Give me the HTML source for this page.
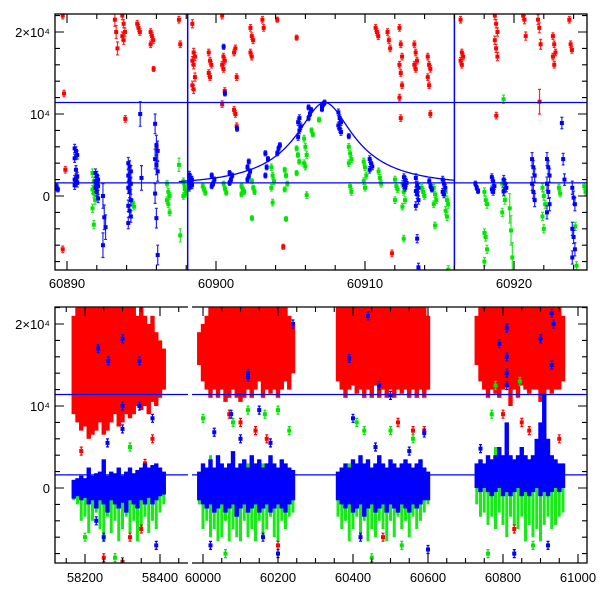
<!DOCTYPE html>
<html><head><meta charset="utf-8"><style>
html,body{margin:0;padding:0;background:#fff;}
svg{display:block;font-family:"Liberation Sans",sans-serif;}
</style></head><body>
<svg id="chart" width="600" height="600" viewBox="0 0 600 600">
<defs>
<clipPath id="clipTop"><rect x="55" y="14" width="532" height="256"/></clipPath>
<clipPath id="clipS1"><rect x="55" y="307" width="133" height="256"/></clipPath>
<clipPath id="clipS2"><rect x="192" y="307" width="395" height="256"/></clipPath>
</defs>
<g id="topPanel"></g>
<g id="botPanel"></g>
</svg>
<script>
// ---- data (flux in units of 1000) ----
const topRed = [
 [60889.8,0.4,[22,12.5,3.2,-6.5]],[60893.3,0.8,[21.5,20.0,18.0]],[60893.8,0.5,[22,21,20,19.5,19]],
 [60894.0,0.4,[9.4]],[60894.8,0.4,[21,20.5,20]],[60895.7,0.4,[20,19.5,19,18.5]],[60895.9,0.3,[15.5]],
 [60896.1,0.4,[6]],[60897.6,0.4,[21.5,18.5]],[60898.5,0.5,[21,17.5,17,16.5,16,14.5,13.5,13]],
 [60899.6,0.4,[17.5,16.5,16,15,14.5]],[60900.5,0.4,[22,17,16.5,16,15.5,12.8,11.2]],
 [60901.3,0.4,[17.5,18,14.5,10.5,10,8.5]],[60902.4,0.4,[20.5,19.5,19,17.5,17]],[60903.2,0.4,[21.5,20.5]],
 [60904.2,0.3,[21.5]],[60904.6,0.3,[-6.2]],[60905.5,0.3,[19.3]],[60910.8,0.4,[20.5,20,19.5]],
 [60911.6,0.4,[20,19,18]],[60911.9,0.4,[-7.0]],[60912.4,0.4,[20.5,18.5,17,16,15,13.5,12,9.5]],
 [60913.4,0.4,[18.5,17.5,16.5,16,15.5]],[60914.3,0.4,[17,16,15.5,14.5,13.5,10]],
 [60916.5,0.4,[21.5,17.5,17,16.5,16]],[60918.8,0.5,[22,21,20,19,18,17]],[60918.9,0.4,[9.8]],
 [60920.7,0.5,[22,21.5,19.5]],[60921.7,0.6,[21.5,20.5,18.5]],[60921.8,1.5,[11.5]],
 [60922.7,0.4,[19.5,18.5,17.5,17,16]],[60923.8,0.4,[21.5,18.5,17.8]]
];
const topGreen = [
 [60891.8,0.5,[2.8,1.8,1.2,0.8,0.3,-0.5,-1.5,-3.5]],[60894.5,0.4,[-0.8,-1.3]],
 [60896.8,0.4,[1.5,0.5,0,-0.5,-1.0,-2.0]],[60897.6,0.8,[3.8,-4.8]],[60897.9,0.4,[1.8,1.2,0.5,0,0.8,0.3]],
 [60899.2,0.3,[1.2,0.8,0.4]],[60900.6,0.3,[1.5,0.9,0.4]],[60901.8,0.3,[1.2,0.8,0.5,0.2]],
 [60902.5,0.3,[1.8,1.0,0.5,-2.7]],[60903.8,0.4,[3.5,2.5,1.8,1.0,-0.8]],[60904.7,0.3,[3.2,2.5,1.5,0.8,-2.8]],
 [60905.5,0.3,[5.8,5.0,4.2,2.8]],[60906.0,0.4,[7.0,6.0,5.0,4.0,3.6,0.1]],[60906.5,0.3,[8.0,7.5]],
 [60907.0,0.3,[9.3]],[60909.0,0.4,[6.0,5.2,4.5,4.0,1.2,0.5]],[60910.0,0.4,[4.2,3.5,2.5,1.8,1.0]],
 [60911.0,0.4,[3.0,2.2,1.5]],[60912.1,0.4,[2.0,1.2,0.8,-0.5]],[60912.6,0.4,[1.5,0.5,-0.5,-1.3,-5.2]],
 [60913.9,0.4,[1.0,0.5,0.0]],[60914.7,0.4,[1.0,0.2,-0.5,-1.0,-3.6]],[60915.5,0.5,[0.5,-0.5,-1.0,-1.8,-2.5,-9.0]],
 [60918.1,0.5,[0.5,-0.5,-1.0,-4.5,-5.0,-6.5,-8.0]],[60919.3,0.5,[1.5,0.5,-0.5,-2.0,11.8]],
 [60919.8,1.8,[-1.5,-4.2,-7.5]],[60922.0,0.5,[1.0,0,-1.0,-2.5,-4.0]],[60923.1,0.4,[1.0,0.3]],
 [60924.2,0.5,[-3.7,-8.5]],[60924.8,0.4,[1.2,0.5]]
];
const topBlue = [
 [60889.3,0.3,[1.0,1.2,0.8]],[60890.6,0.5,[5.8,5.5,5.0,4.6,3.2,2.4,2.0,1.8,1.6,1.3]],
 [60892.0,0.5,[2.8,2.5,2.0,1.8,1.5,1.2,1.0,0.5,-0.3]],[60892.5,1.5,[0.0,-2.6,-3.8,-6.0]],
 [60894.2,0.7,[4,3.6,3,2.5,2,1.5,1,0.5,-0.5,-1.2,-1.8,-2.5,-3.3]],[60895.0,1.5,[10,2.2]],
 [60896.0,1.2,[8.8,6.2,5.5,4.5,3.8,3.0,0.3,-2.7,-7.2]],[60898.3,0.4,[2.6,2.2,2.0,1.8,1.5,1.3,1.0]],
 [60899.8,0.3,[1.2,1.5,2.0,2.5]],[60901.0,0.3,[1.6,2.0,2.5,2.8]],[60900.6,0.3,[18.2,12.5]],
 [60901.5,0.3,[8.2]],[60902.2,0.3,[2.0,2.4,3.0,3.5,4.2]],[60903.4,0.3,[2.5,3.5,4.5,5.2]],
 [60904.2,0.3,[5.2,5.8,6.2]],[60905.6,0.4,[7.2,8.0,8.5,9.0,9.5]],[60906.3,0.3,[9.5,10.0,10.5,10.8]],
 [60907.2,0.3,[10.6,11.2,11.4,10.9]],[60908.3,0.4,[10.2,9.5,9.0,8.6,8.2,7.8]],[60909.0,0.3,[7.3]],
 [60910.4,0.4,[4.5,4.0,3.6,3.2]],[60912.7,0.4,[2.3,2.0,1.6,1.3,1.0]],
 [60913.5,0.5,[2.2,1.3,1.0,0.6,0.2,-0.5,-1.2,-5.2,-8.7]],[60914.4,0.3,[1.8,1.2,0.8]],
 [60915.3,0.4,[2.0,1.5,1.0,0.5,0.2]],[60917.5,0.3,[1.5,1.0,0.6]],[60918.6,0.4,[2.3,1.8,1.2,0.8,0.5]],
 [60919.4,0.5,[2.0,1.5,1.0,0.6]],[60921.3,0.8,[4.5,3.5,2.5,1.5,0.5,-0.5]],
 [60922.3,0.8,[4.5,3.5,2.5,1.5,0.5,-1.0,-2.0]],[60923.3,0.7,[8.9,4.5,2.0]],
 [60924.0,0.8,[1.0,-0.2,-1.0,-4.0,-5.0,-6.5,-7.5]]
];
// microlensing model parameters
const modelT0 = 60907.3, modelTE = 6.2, modelU0 = 0.3, modelBase = 1.3, modelPeak = 11.4;
const modelStart = 60897.5, modelEnd = 60916.0;
// reference lines
const hLines = [11.4, 1.6];
const vLines = [60898.1, 60916.0];
const topXTicks = [60890, 60900, 60910, 60920];
const yTickLabels = ["0", "10⁴", "2×10⁴"];
const yTickValues = [0, 10, 20];

// bottom panel: binned envelopes per 10-day bin
const binS1 = [58170,58180,58190,58200,58210,58220,58230,58240,58250,58260,58270,58280,58290,58300,58310,58320,58330,58340,58350,58360,58370,58380,58390,58400,58410];
const binS2 = [59990,60000,60010,60020,60030,60040,60050,60060,60070,60080,60090,60100,60110,60120,60130,60140,60150,60160,60170,60180,60190,60200,60210,60220,60230,60240];
const binS3 = [60360,60370,60380,60390,60400,60410,60420,60430,60440,60450,60460,60470,60480,60490,60500,60510,60520,60530,60540,60550,60560,60570,60580,60590,60600];
const binS4 = [60730,60740,60750,60760,60770,60780,60790,60800,60810,60820,60830,60840,60850,60860,60870,60880,60890,60900,60910,60920,60930,60940,60950,60960];
const redLo = [9,8,7,7.5,6,6.5,7,8,6.5,7,8,9,7.5,8,9,8.5,9,10,9.5,10,9,10.5,10,11,12,
 15,13,12,11,12,11,12,10.5,11,12,11,10.5,11,12,11,12,13,11,12,11.5,12,11,12,13,12,14,
 13,12,11,12,12.5,11.5,12,11,12,11,12.5,11,12,11,12,11,12,11.5,12,11,12,11,12,11,12,
 15,13,12,11,12,11.5,11,12,12.5,10,12,11,12.5,12,11.5,12,12,10.5,11,12,11.5,12,12,13];
const redHi = [21,22,22,22,22,22,22,22,22,22,22,22,22,22,22,22,22,21,22,21,20,21,19,18,17,
 19,20,21,22,22,22,22,22,22,22,22,22,22,22,22,22,22,22,22,22,22,22,22,22,21,20,
 22,22,22,22,22,22,22,22,22,22,22,22,22,22,22,22,22,22,22,22,22,22,22,22,21,
 21,22,22,22,22,22,22,22,22,22,22,22,22,22,22,22,22,22,22,22,22,22,22,21];
const greenLo = [-1.5,-2,-4,-3.5,-5.5,-4,-3,-5,-6.5,-3.5,-5.5,-4,-6.5,-5,-3.5,-5.5,-4,-6.5,-5,-3.5,-5.5,-4,-5,-3,-2,
 -2,-5,-4,-6,-5,-6.5,-6,-4,-6.5,-5,-6,-6.5,-4,-6,-5,-6.5,-4,-6,-5,-3.5,-6,-6.5,-4,-5,-3.5,-3,
 -3.5,-5,-4,-6.5,-5,-3.5,-6,-4,-6.5,-5,-6,-4,-5,-6.5,-4,-6,-3.5,-5,-4,-6,-3.5,-5,-4,-3,-2,
 -2,-3.5,-3,-4.5,-3.5,-5,-3,-4.5,-6,-3.5,-4.5,-5,-3.5,-6.5,-4.5,-6,-5,-6.5,-4.5,-3.5,-5,-4.5,-3.5,-3];
const greenHi = [0.5,0.5,0.5,0.5,1,0.5,1,0.5,1,0.5,1,0.5,1,0.5,1,0.5,1,0.5,1,0.5,1,0.5,1,0.5,0.5,
 1,3,2,4,2,3,2,1.5,3,2,2,1.5,2,3,2,1.5,2,3,2,1.5,2,1.5,2,1.5,1,1,
 1,2,1.5,3,2,1.5,2,1.5,2,1.5,2,1.5,2,1.5,2,1.5,2,1.5,2,1.5,2,1.5,2,1,1,
 1,1.5,2,2,3,5,2,2,3,2,2,2,1.5,2,2,3,2,2,1.5,2,1.5,1.5,1,1];
const blueLo = [-1.3,-1,-1.5,-1.2,-2,-1.5,-2.5,-1.5,-2,-3,-1.5,-2,-2.5,-1.8,-3,-1.5,-2,-2.5,-1.5,-2,-1.2,-2,-1.5,-1,-0.8,
 -1.5,-2,-2.5,-2,-3,-2.5,-2,-3,-2.5,-2,-3.5,-2.5,-2,-3,-2.5,-2,-3,-2.5,-2,-3,-2.5,-2,-2.5,-3,-2,-1.5,
 -1.5,-2,-2.5,-2,-3,-2.5,-2,-3.5,-2.5,-2,-3,-2.5,-2,-3,-2,-2.5,-3,-2,-2.5,-3,-2,-2.5,-2,-1.5,-1.5,
 0,-0.5,0,-0.5,-1,-0.5,0,-1,-0.5,-1,-0.5,0,-1,-0.5,-1,-0.5,0,-1,-0.5,-1,-0.5,0,-0.5,0];
const blueHi = [1,1.2,1.5,1.2,2.5,1.5,1.8,2,3.5,1.5,2,1.8,2.5,1.5,2,2.5,1.8,2.2,2.5,3,2.5,2.8,3,2.5,2,
 2,3,2.5,3.5,2.5,4,3,2.5,3,4.5,2.5,3,3.5,2.5,4,3,3.5,2.5,3,4,3,2.5,3.5,3,2.5,2.2,
 2,2.5,3,2.5,3.5,3,4,3,3.5,2.5,3,4,3,2.5,3.5,3,2.5,3,3.5,3,2.5,3,3.5,2.5,2,
 3,3.5,3,4,3.5,4,5,4,8,4,3.5,4,5,4,3.5,4,6,8,11.5,6,4,3.5,3,3];
// bottom outliers [t, flux]
const botBlueOut = [[58235,17],[58262,15.5],[58300,18.2],[58345,15.5],[58300,10],[58345,10],[58380,8.5],[58300,7.2],[58260,5.5],[58230,-4],[58250,-6],[58390,-7],
 [60120,14],[60120,13.5],[60075,9],[60240,20],[60150,9.5],[60030,6.8],[60100,6],[60180,5.5],[60020,-7],[60200,-8],[60160,-6],
 [60390,15.8],[60440,21],[60470,12.5],[60500,11.3],[60590,6.7],[60400,8.5],[60460,5],[60550,4.5],[60420,-6],[60600,-7.5],
 [60790,17.6],[60810,19.5],[60810,16],[60810,14],[60810,12.5],[60900,18.2],[60930,21.3],[60930,15],[60935,20],[60740,4.8],[60830,-8],[60920,-7]];
const botGreenOut = [[58200,-6],[58320,5],[58280,-8.5],[60000,8.5],[60120,9.5],[60165,9.0],[60200,9.5],[60080,8],[60230,7],[60410,8],[60430,7],[60500,7],[60560,6],[60780,12.5],[60845,13],[60770,9],[60760,-8],[60880,-7],[60060,-8],[60450,-8.5],[60530,-7]];
const botRedOut = [[58190,4.5],[58300,-9],[58250,-8.5],[58320,-6],[58350,-5],[58380,6],[58360,3],[60200,-7],[60070,9],[60100,8],[60140,7],[60170,6],[60480,-6],[60520,8],[60560,7],[60590,7],[60830,-5],[60850,8],[60870,7],[60950,6],[60800,9]];

// ---- axes ----
const NS = "http://www.w3.org/2000/svg";
const topX = t => 67 + (t - 60890) * 14.9;
const topY = v => 196 - v * 8.2;
const botY = v => 488 - v * 8.2;
const botX = t => t < 59000 ? 85 + (t - 58200) * 0.375 : 203 + (t - 60000) * 0.375;
const COL = {r:"#ff0000", g:"#00e600", b:"#0000ff"};

function el(tag, attrs, parent){
  const e = document.createElementNS(NS, tag);
  for (const k in attrs) e.setAttribute(k, attrs[k]);
  parent.appendChild(e);
  return e;
}
const topG = document.getElementById('topPanel');
const botG = document.getElementById('botPanel');

const topData = el('g', {'clip-path':'url(#clipTop)'}, topG);



function drawTop(series, color, name){
  const g = el('g', {}, topData);
  
  
  series.forEach(([t, err, vals]) => {
    vals.forEach((v, i) => {
      const x = topX(t) + ((i % 3) - 1) * 1.3;
      const y = topY(v), e = err * 8.2;
      const p = el('path', {d:`M${x},${y-e}V${y+e}M${x-1.5},${y-e}H${x+1.5}M${x-1.5},${y+e}H${x+1.5}`, stroke:color, 'stroke-width':1.2, fill:'none', opacity:0.85}, g);
      
      
      const r = el('rect', {x:x-2, y:y-2, width:4, height:4, fill:color}, g);
      
      
    });
  });
}
drawTop(topRed, COL.r, 'red-series');
drawTop(topGreen, COL.g, 'green-series');
drawTop(topBlue, COL.b, 'blue-series');

let d = "";
const A0 = (modelU0*modelU0+2)/(modelU0*Math.sqrt(modelU0*modelU0+4));
for (let t = modelStart; t <= modelEnd; t += 0.1) {
  const u = Math.sqrt(modelU0*modelU0 + ((t-modelT0)/modelTE)**2);
  const A = (u*u+2)/(u*Math.sqrt(u*u+4));
  const f = modelBase + (modelPeak - modelBase) * (A-1)/(A0-1);
  d += (d ? "L" : "M") + topX(t).toFixed(2) + "," + topY(f).toFixed(2);
}
const curve = el('path', {d:d, stroke:COL.b, 'stroke-width':1.3, fill:'none'}, topData);



hLines.forEach(v => {
  const l = el('line', {x1:55, x2:587, y1:topY(v), y2:topY(v), stroke:COL.b, 'stroke-width':1.2}, topG);
  
  
});
vLines.forEach(t => {
  const l = el('line', {x1:topX(t), x2:topX(t), y1:14, y2:270, stroke:COL.b, 'stroke-width':1.5}, topG);
  
  
});

const tf = el('rect', {x:55, y:14, width:532, height:256, fill:'none', stroke:'#000', 'stroke-width':1.3}, topG);


let td = "";
for (let t = 60890; t <= 60924; t += 2) {
  const x = topX(t), L = (t % 10 === 0) ? 9 : 5;
  td += `M${x},270V${270-L}M${x},14V${14+L}`;
}
for (let v = -8; v <= 22; v += 2) {
  const y = topY(v), L = (v % 10 === 0) ? 9 : 5;
  td += `M55,${y}H${55+L}M587,${y}H${587-L}`;
}
const tt = el('path', {d:td, stroke:'#000', 'stroke-width':1.1}, topG);


topXTicks.forEach(t => {
  const tx = el('text', {x:topX(t), y:288, 'text-anchor':'middle', 'font-size':13}, topG);
  tx.textContent = String(t);
  
  
});
function yLabels(parent, yf){
  yTickValues.forEach((v, i) => {
    const tx = el('text', {x:50, y:yf(v)+5, 'text-anchor':'end', 'font-size':13}, parent);
    tx.textContent = yTickLabels[i];
    
    
  });
}
yLabels(topG, topY);

// ---- bottom panel ----
const botT = binS1.concat(binS2, binS3, binS4);
const seg1 = el('g', {'clip-path':'url(#clipS1)'}, botG);


const seg2 = el('g', {'clip-path':'url(#clipS2)'}, botG);


const segOf = t => t < 59000 ? seg1 : seg2;

function drawBand(lo, hi, color, name, w, op){
  botT.forEach((t, i) => {
    const x = botX(t), y1 = botY(hi[i]), y2 = botY(lo[i]);
    const r = el('rect', {x:x-w/2, y:y1, width:w, height:y2-y1, fill:color, opacity:op}, segOf(t));
    
    
  });
}
function drawOut(pts, color, name){
  pts.forEach(([t, v]) => {
    const x = botX(t), y = botY(v);
    const p = el('path', {d:`M${x},${y-4}V${y+4}M${x-1.5},${y-4}H${x+1.5}M${x-1.5},${y+4}H${x+1.5}`, stroke:color, 'stroke-width':1.2}, segOf(t));
    
    
    const r = el('rect', {x:x-2, y:y-2, width:4, height:4, fill:color}, segOf(t));
    
    
  });
}
drawBand(redLo, redHi, COL.r, 'red-band', 4.4, 1);
drawBand(greenLo, greenHi, COL.g, 'green-band', 3, 0.9);
drawOut(botRedOut, COL.r, 'red-outlier');
drawOut(botGreenOut, COL.g, 'green-outlier');
drawBand(blueLo, blueHi, COL.b, 'blue-band', 4.4, 1);
drawOut(botBlueOut, COL.b, 'blue-outlier');

hLines.forEach(v => {
  [[55,188],[192,587]].forEach(([a,b]) => {
    const l = el('line', {x1:a, x2:b, y1:botY(v), y2:botY(v), stroke:COL.b, 'stroke-width':1.2}, botG);
    
    
  });
});
const bf = el('path', {d:"M188,307H55V563H188M192,307H587V563H192", fill:'none', stroke:'#000', 'stroke-width':1.3}, botG);


let bd = "";
for (let t = 58150; t <= 58550; t += 50) {
  const x = botX(t); if (x < 55 || x > 188) continue;
  const L = (t % 200 === 0) ? 9 : 5;
  bd += `M${x},563V${563-L}M${x},307V${307+L}`;
}
for (let t = 60000; t <= 61000; t += 50) {
  const x = botX(t); if (x < 192 || x > 587) continue;
  const L = (t % 200 === 0) ? 9 : 5;
  bd += `M${x},563V${563-L}M${x},307V${307+L}`;
}
for (let v = -8; v <= 22; v += 2) {
  const y = botY(v), L = (v % 10 === 0) ? 9 : 5;
  bd += `M55,${y}H${55+L}M587,${y}H${587-L}`;
}
const bt = el('path', {d:bd, stroke:'#000', 'stroke-width':1.1}, botG);


const botXTicks = [58200, 58400, 60000, 60200, 60400, 60600, 60800, 61000];
botXTicks.forEach(t => {
  const tx = el('text', {x:botX(t), y:582, 'text-anchor':'middle', 'font-size':13}, botG);
  tx.textContent = String(t);
  
  
});
yLabels(botG, botY);
</script>
</body></html>
